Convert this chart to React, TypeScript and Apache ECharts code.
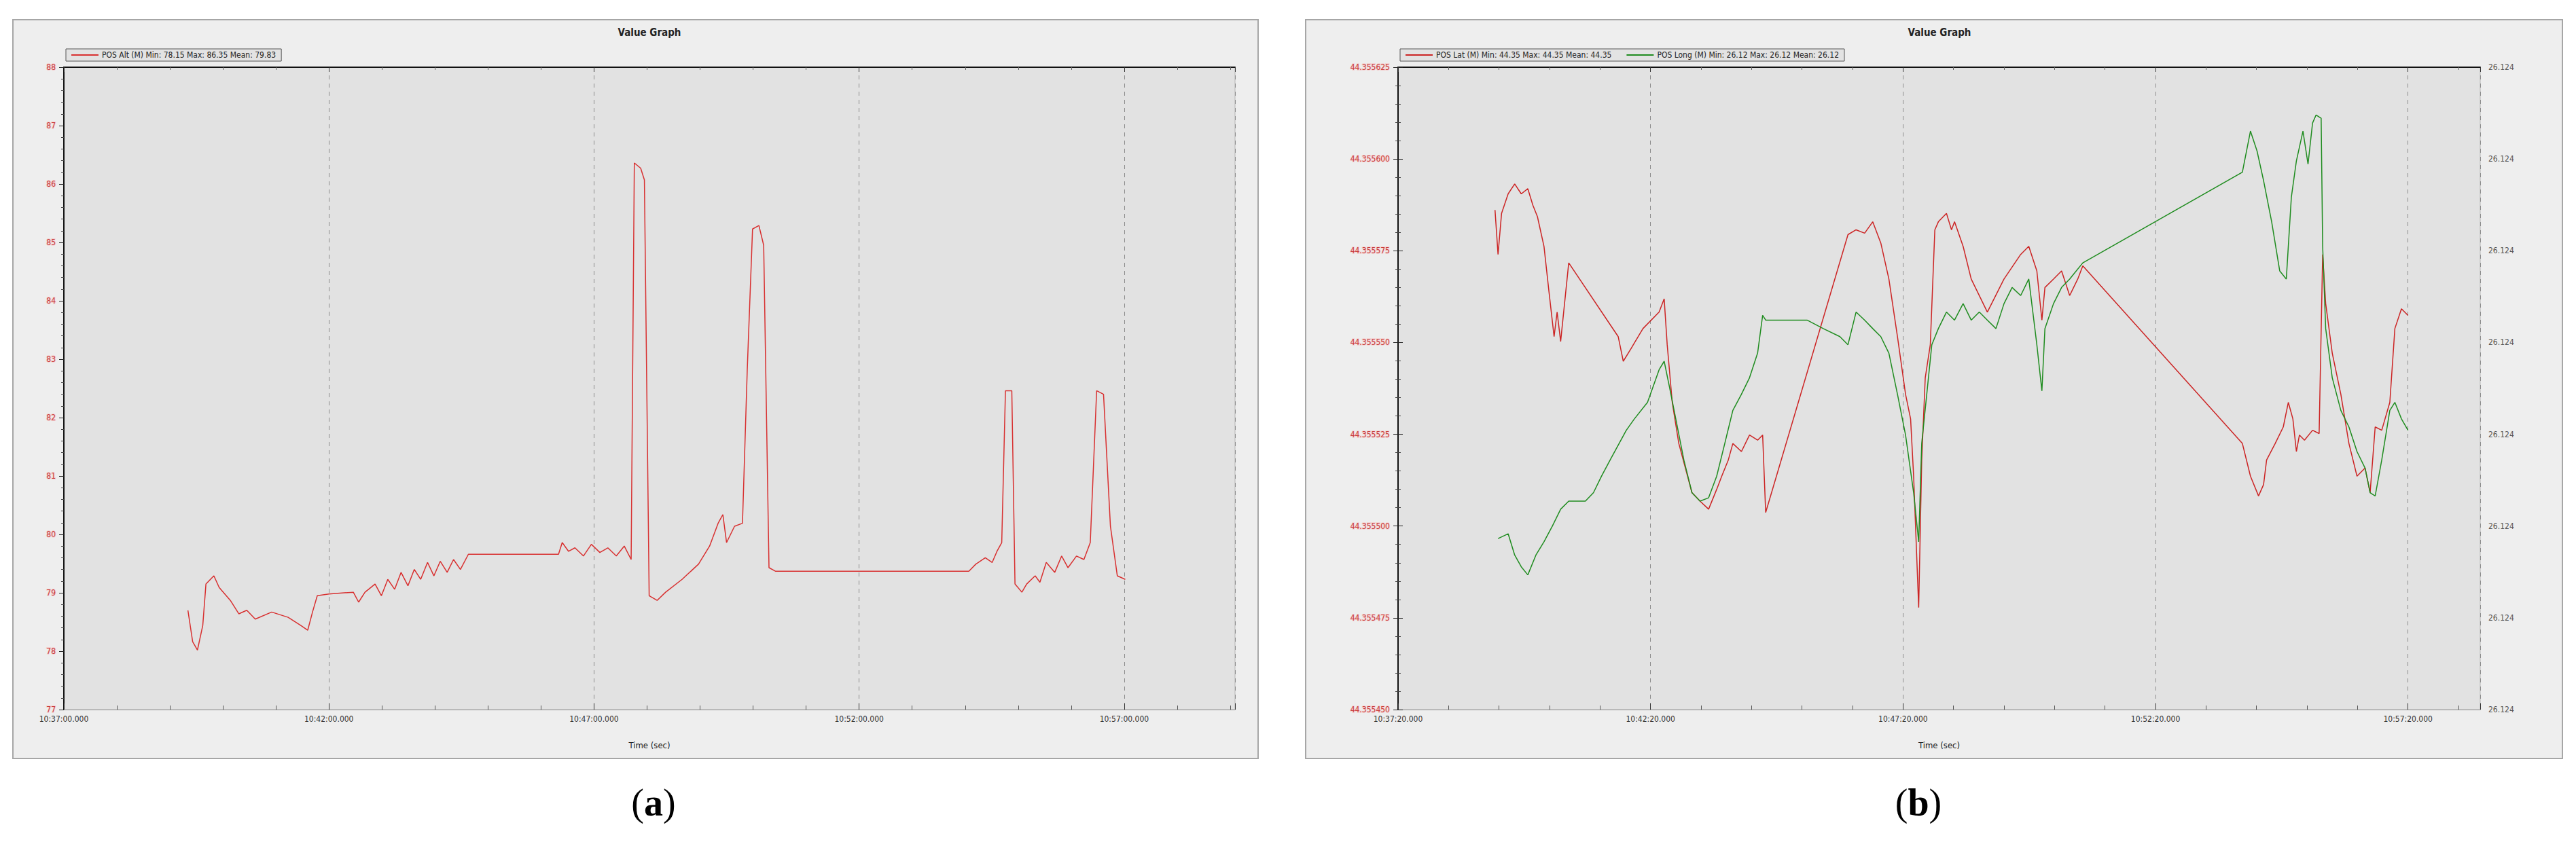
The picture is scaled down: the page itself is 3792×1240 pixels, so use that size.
import React, { useEffect, useRef } from "react";
import * as echarts from "echarts";

// ---------- Panel (a): altitude, time in minutes after 10:37:00 ----------
const altTimes = [2.34, 2.43, 2.52, 2.62, 2.68, 2.83, 2.93, 3.14, 3.30, 3.45, 3.61, 3.92, 4.23, 4.47, 4.60, 4.69, 4.78, 5.00, 5.46, 5.56, 5.68, 5.87, 5.99, 6.11, 6.24, 6.36, 6.49, 6.61, 6.73, 6.86, 6.98, 7.10, 7.23, 7.35, 7.48, 7.63, 9.33, 9.40, 9.52, 9.64, 9.80, 9.95, 10.11, 10.26, 10.42, 10.57, 10.70, 10.76, 10.88, 10.95, 11.04, 11.19, 11.35, 11.66, 11.97, 12.18, 12.34, 12.43, 12.50, 12.65, 12.80, 12.89, 12.99, 13.11, 13.20, 13.30, 13.42, 17.07, 17.20, 17.38, 17.51, 17.60, 17.69, 17.76, 17.88, 17.94, 18.07, 18.16, 18.32, 18.41, 18.53, 18.69, 18.82, 18.94, 19.10, 19.24, 19.36, 19.48, 19.61, 19.74, 19.87, 20.02];
const altValues = [78.70, 78.16, 78.02, 78.44, 79.15, 79.29, 79.09, 78.87, 78.64, 78.70, 78.55, 78.67, 78.58, 78.44, 78.36, 78.67, 78.95, 78.98, 79.01, 78.84, 79.01, 79.15, 78.95, 79.23, 79.06, 79.35, 79.12, 79.40, 79.23, 79.52, 79.29, 79.54, 79.35, 79.57, 79.40, 79.66, 79.66, 79.86, 79.71, 79.77, 79.63, 79.83, 79.69, 79.77, 79.63, 79.80, 79.57, 86.36, 86.27, 86.07, 78.95, 78.87, 79.01, 79.23, 79.49, 79.80, 80.19, 80.34, 79.86, 80.14, 80.19, 82.82, 85.23, 85.29, 84.95, 79.43, 79.37, 79.37, 79.49, 79.60, 79.52, 79.71, 79.86, 82.46, 82.46, 79.15, 79.01, 79.15, 79.29, 79.18, 79.52, 79.35, 79.63, 79.43, 79.63, 79.57, 79.86, 82.46, 82.40, 80.14, 79.29, 79.23];

// ---------- Panel (b): latitude / longitude, time in minutes after 10:37:20 ----------
const latTimes = [1.92, 1.98, 2.05, 2.18, 2.31, 2.44, 2.57, 2.67, 2.76, 2.89, 2.99, 3.09, 3.15, 3.22, 3.38, 4.36, 4.46, 4.62, 4.85, 5.17, 5.27, 5.33, 5.43, 5.56, 5.69, 5.82, 5.98, 6.15, 6.31, 6.41, 6.54, 6.63, 6.80, 6.96, 7.12, 7.22, 7.28, 8.91, 9.07, 9.24, 9.40, 9.56, 9.72, 9.89, 10.05, 10.15, 10.21, 10.31, 10.37, 10.44, 10.54, 10.63, 10.70, 10.86, 10.96, 11.02, 11.19, 11.35, 11.67, 12.00, 12.33, 12.49, 12.65, 12.75, 12.81, 12.98, 13.14, 13.30, 13.46, 13.56, 16.72, 16.88, 17.04, 17.14, 17.20, 17.37, 17.53, 17.63, 17.72, 17.79, 17.85, 17.95, 18.11, 18.24, 18.31, 18.37, 18.50, 18.67, 18.83, 18.99, 19.15, 19.25, 19.35, 19.48, 19.64, 19.74, 19.87, 20.00];
const latValues = [44.3555861, 44.3555740, 44.3555852, 44.3555905, 44.3555932, 44.3555905, 44.3555919, 44.3555874, 44.3555843, 44.3555762, 44.3555637, 44.3555516, 44.3555583, 44.3555503, 44.3555717, 44.3555516, 44.3555449, 44.3555485, 44.3555538, 44.3555583, 44.3555619, 44.3555494, 44.3555337, 44.3555225, 44.3555158, 44.3555091, 44.3555068, 44.3555046, 44.3555100, 44.3555136, 44.3555180, 44.3555225, 44.3555203, 44.3555248, 44.3555234, 44.3555248, 44.3555037, 44.3555794, 44.3555807, 44.3555798, 44.3555829, 44.3555771, 44.3555673, 44.3555516, 44.3555359, 44.3555292, 44.3555136, 44.3554778, 44.3555180, 44.3555404, 44.3555494, 44.3555807, 44.3555829, 44.3555852, 44.3555807, 44.3555829, 44.3555762, 44.3555673, 44.3555583, 44.3555673, 44.3555740, 44.3555762, 44.3555695, 44.3555561, 44.3555650, 44.3555673, 44.3555695, 44.3555628, 44.3555673, 44.3555709, 44.3555225, 44.3555136, 44.3555082, 44.3555113, 44.3555180, 44.3555225, 44.3555270, 44.3555337, 44.3555292, 44.3555203, 44.3555248, 44.3555234, 44.3555261, 44.3555252, 44.3555740, 44.3555606, 44.3555471, 44.3555359, 44.3555225, 44.3555136, 44.3555158, 44.3555091, 44.3555270, 44.3555261, 44.3555337, 44.3555538, 44.3555592, 44.3555574];

const lonTimes = [1.98, 2.18, 2.31, 2.44, 2.57, 2.73, 2.89, 3.06, 3.22, 3.38, 3.71, 3.87, 4.03, 4.20, 4.52, 4.68, 4.94, 5.17, 5.27, 5.37, 5.50, 5.66, 5.82, 5.98, 6.15, 6.31, 6.47, 6.63, 6.80, 6.96, 7.12, 7.22, 7.28, 8.10, 8.42, 8.75, 8.91, 9.07, 9.24, 9.40, 9.56, 9.72, 9.89, 10.05, 10.21, 10.31, 10.37, 10.47, 10.57, 10.70, 10.86, 11.02, 11.19, 11.35, 11.51, 11.67, 11.84, 12.00, 12.16, 12.33, 12.49, 12.65, 12.75, 12.81, 12.98, 13.14, 13.30, 13.56, 16.72, 16.88, 17.01, 17.14, 17.30, 17.46, 17.59, 17.69, 17.79, 17.92, 18.02, 18.11, 18.18, 18.28, 18.31, 18.37, 18.50, 18.67, 18.83, 18.99, 19.15, 19.25, 19.35, 19.48, 19.64, 19.74, 19.87, 20.00];
const lonValues = [26.1244466, 26.1244479, 26.1244421, 26.1244389, 26.1244367, 26.1244421, 26.1244457, 26.1244501, 26.1244546, 26.1244568, 26.1244568, 26.1244591, 26.1244636, 26.1244680, 26.1244761, 26.1244792, 26.1244837, 26.1244926, 26.1244949, 26.1244882, 26.1244792, 26.1244680, 26.1244591, 26.1244568, 26.1244577, 26.1244636, 26.1244725, 26.1244815, 26.1244859, 26.1244904, 26.1244971, 26.1245074, 26.1245061, 26.1245061, 26.1245038, 26.1245016, 26.1244994, 26.1245083, 26.1245061, 26.1245038, 26.1245016, 26.1244971, 26.1244859, 26.1244748, 26.1244591, 26.1244457, 26.1244725, 26.1244859, 26.1244994, 26.1245038, 26.1245083, 26.1245061, 26.1245106, 26.1245061, 26.1245083, 26.1245061, 26.1245038, 26.1245106, 26.1245150, 26.1245128, 26.1245173, 26.1244994, 26.1244868, 26.1245038, 26.1245106, 26.1245150, 26.1245173, 26.1245217, 26.1245464, 26.1245576, 26.1245522, 26.1245441, 26.1245329, 26.1245195, 26.1245173, 26.1245396, 26.1245495, 26.1245576, 26.1245486, 26.1245598, 26.1245620, 26.1245611, 26.1245262, 26.1245038, 26.1244904, 26.1244815, 26.1244770, 26.1244703, 26.1244658, 26.1244591, 26.1244582, 26.1244680, 26.1244815, 26.1244837, 26.1244792, 26.1244761];

// Axis settings (tick labels)
const altAxis = { min: 77, max: 88, step: 1 };
const latAxis = { min: 44.35545, max: 44.355625, step: 0.000025 };
const lonAxis = { min: 26.1244, max: 26.124575, step: 0.000025 };
const timeAxisA = { baseSec: 10 * 3600 + 37 * 60, min: 0, max: 22.09, step: 5 };
const timeAxisB = { baseSec: 10 * 3600 + 37 * 60 + 20, min: 0, max: 21.43, step: 5 };

const altName = "POS Alt (M) Min: 78.15 Max: 86.35 Mean: 79.83";
const latName = "POS Lat (M) Min: 44.35 Max: 44.35 Mean: 44.35";
const lonName = "POS Long (M) Min: 26.12 Max: 26.12 Mean: 26.12";

const FONT = "'Liberation Sans Narrow', 'DejaVu Sans Condensed', 'Liberation Sans', sans-serif";

function pad(n: number) {
  return n < 10 ? "0" + n : "" + n;
}
function fmtTime(baseSec: number, m: number) {
  const s = Math.round(baseSec + m * 60);
  const hh = Math.floor(s / 3600);
  const mm = Math.floor((s % 3600) / 60);
  const ss = s % 60;
  return `${pad(hh)}:${pad(mm)}:${pad(ss)}.000`;
}

function xAxes(gridIndex: number, ax: { baseSec: number; min: number; max: number; step: number }) {
  const common = {
    gridIndex,
    type: "value",
    min: ax.min,
    max: ax.max,
    interval: ax.step,
  };
  return [
    {
      ...common,
      position: "bottom",
      axisLine: { show: true, lineStyle: { color: "#9a9a9a", width: 1 } },
      axisTick: { show: true, inside: true, length: 9, lineStyle: { color: "#333" } },
      minorTick: { show: true, splitNumber: 5, length: 6, lineStyle: { color: "#555" } },
      axisLabel: {
        formatter: (v: number) => fmtTime(ax.baseSec, v),
        showMaxLabel: false,
        color: "#333",
        fontSize: 12,
        fontFamily: FONT,
        margin: 8,
      },
      splitLine: { show: true, lineStyle: { type: [6, 6], color: "#8c8c8c", width: 1 } },
      name: "Time (sec)",
      nameLocation: "middle",
      nameGap: 46,
      nameTextStyle: { color: "#222", fontSize: 13, fontFamily: FONT },
    },
    {
      ...common,
      position: "top",
      axisLine: { show: true, lineStyle: { color: "#111", width: 2 } },
      axisTick: { show: true, inside: true, length: 7, lineStyle: { color: "#333" } },
      minorTick: { show: true, splitNumber: 5, length: 4, lineStyle: { color: "#666" } },
      axisLabel: { show: false },
      splitLine: { show: false },
    },
  ];
}

const redLabel = {
  color: "#c83a3a",
  fontSize: 12,
  fontFamily: FONT,
  textBorderColor: "rgba(245,200,200,0.7)",
  textBorderWidth: 2,
};

export default function App() {
  const ref = useRef<HTMLDivElement>(null);

  useEffect(() => {
    if (!ref.current) return;
    const chart = echarts.init(ref.current, null, { renderer: "svg" });

    const altData = altTimes.map((t, i) => [t, altValues[i]]);
    const latData = latTimes.map((t, i) => [t, latValues[i]]);
    const lonData = lonTimes.map((t, i) => [t, lonValues[i]]);

    const gridA = { left: 94, top: 99, width: 1724, height: 946 };
    const gridB = { left: 2058, top: 99, width: 1593, height: 946 };

    const legendCommon = {
      orient: "horizontal",
      icon: "rect",
      itemWidth: 40,
      itemHeight: 2,
      itemGap: 22,
      backgroundColor: "#e3e3e3",
      borderColor: "#555",
      borderWidth: 1,
      borderRadius: 0,
      padding: [3, 8, 3, 8],
      textStyle: { color: "#222", fontSize: 12, fontFamily: FONT },
    };

    const option: any = {
      animation: false,
      backgroundColor: "#ffffff",
      grid: [
        { ...gridA, show: true, backgroundColor: "#e2e2e2", borderColor: "#b5b5b5", borderWidth: 1 },
        { ...gridB, show: true, backgroundColor: "#e2e2e2", borderColor: "#b5b5b5", borderWidth: 1 },
      ],
      legend: [
        { ...legendCommon, data: [altName], left: 97, top: 72 },
        { ...legendCommon, data: [latName, lonName], left: 2061, top: 72 },
      ],
      xAxis: [...xAxes(0, timeAxisA), ...xAxes(1, timeAxisB)],
      yAxis: [
        {
          gridIndex: 0,
          type: "value",
          min: altAxis.min,
          max: altAxis.max,
          interval: altAxis.step,
          position: "left",
          axisLine: { show: true, lineStyle: { color: "#111", width: 2 } },
          axisTick: { show: true, length: 7, lineStyle: { color: "#222" } },
          minorTick: { show: true, splitNumber: 5, length: 4, lineStyle: { color: "#444" } },
          axisLabel: { ...redLabel, margin: 12 },
          splitLine: { show: false },
        },
        {
          gridIndex: 1,
          type: "value",
          min: latAxis.min,
          max: latAxis.max,
          interval: latAxis.step,
          position: "left",
          axisLine: { show: true, lineStyle: { color: "#111", width: 2 } },
          axisTick: { show: true, length: 7, lineStyle: { color: "#222" } },
          minorTick: { show: true, splitNumber: 5, length: 4, lineStyle: { color: "#444" } },
          axisLabel: { ...redLabel, margin: 12, formatter: (v: number) => v.toFixed(6) },
          splitLine: { show: false },
        },
        {
          gridIndex: 1,
          type: "value",
          min: lonAxis.min,
          max: lonAxis.max,
          interval: lonAxis.step,
          position: "right",
          axisLine: { show: true, lineStyle: { color: "#111", width: 2 } },
          axisTick: { show: true, length: 7, lineStyle: { color: "#222" } },
          minorTick: { show: true, splitNumber: 5, length: 4, lineStyle: { color: "#444" } },
          axisLabel: {
            color: "#555",
            fontSize: 12,
            fontFamily: FONT,
            margin: 12,
            formatter: (v: number) => (Math.floor(v * 1000 + 1e-7) / 1000).toFixed(3),
          },
          splitLine: { show: false },
        },
      ],
      series: [
        {
          name: altName,
          type: "line",
          xAxisIndex: 0,
          yAxisIndex: 0,
          data: altData,
          showSymbol: false,
          color: "#d83030",
          lineStyle: { color: "#d83030", width: 1.5 },
        },
        {
          name: latName,
          type: "line",
          xAxisIndex: 2,
          yAxisIndex: 1,
          data: latData,
          showSymbol: false,
          color: "#cc2424",
          lineStyle: { color: "#cc2424", width: 1.5 },
        },
        {
          name: lonName,
          type: "line",
          xAxisIndex: 2,
          yAxisIndex: 2,
          data: lonData,
          showSymbol: false,
          color: "#1f8c1f",
          lineStyle: { color: "#1f8c1f", width: 1.5 },
        },
      ],
      graphic: [
        {
          type: "rect",
          z: -10,
          shape: { x: 19, y: 29, width: 1833, height: 1088 },
          style: { fill: "#eeeeee", stroke: "#a6a6a6", lineWidth: 2 },
        },
        {
          type: "rect",
          z: -10,
          shape: { x: 1922, y: 29, width: 1850, height: 1088 },
          style: { fill: "#eeeeee", stroke: "#a6a6a6", lineWidth: 2 },
        },
        {
          type: "text",
          x: 956,
          y: 48,
          style: {
            text: "Value Graph",
            fill: "#222",
            fontSize: 15,
            fontWeight: "bold",
            fontFamily: FONT,
            textAlign: "center",
            textVerticalAlign: "middle",
          },
        },
        {
          type: "text",
          x: 2855,
          y: 48,
          style: {
            text: "Value Graph",
            fill: "#222",
            fontSize: 15,
            fontWeight: "bold",
            fontFamily: FONT,
            textAlign: "center",
            textVerticalAlign: "middle",
          },
        },
        {
          type: "text",
          x: 962,
          y: 1182,
          style: {
            text: "{p|(}{b|a}{p|)}",
            textAlign: "center",
            textVerticalAlign: "middle",
            rich: {
              p: { fontSize: 56, fontFamily: "'Liberation Serif', 'DejaVu Serif', serif", fill: "#000" },
              b: { fontSize: 56, fontWeight: "bold", fontFamily: "'Liberation Serif', 'DejaVu Serif', serif", fill: "#000" },
            },
          },
        },
        {
          type: "text",
          x: 2824,
          y: 1182,
          style: {
            text: "{p|(}{b|b}{p|)}",
            textAlign: "center",
            textVerticalAlign: "middle",
            rich: {
              p: { fontSize: 56, fontFamily: "'Liberation Serif', 'DejaVu Serif', serif", fill: "#000" },
              b: { fontSize: 56, fontWeight: "bold", fontFamily: "'Liberation Serif', 'DejaVu Serif', serif", fill: "#000" },
            },
          },
        },
      ],
    };

    chart.setOption(option);
    return () => {
      chart.dispose();
    };
  }, []);

  return (
    <div
      ref={ref}
      style={{ position: "fixed", left: 0, top: 0, width: 3792, height: 1240, background: "#fff" }}
    />
  );
}
